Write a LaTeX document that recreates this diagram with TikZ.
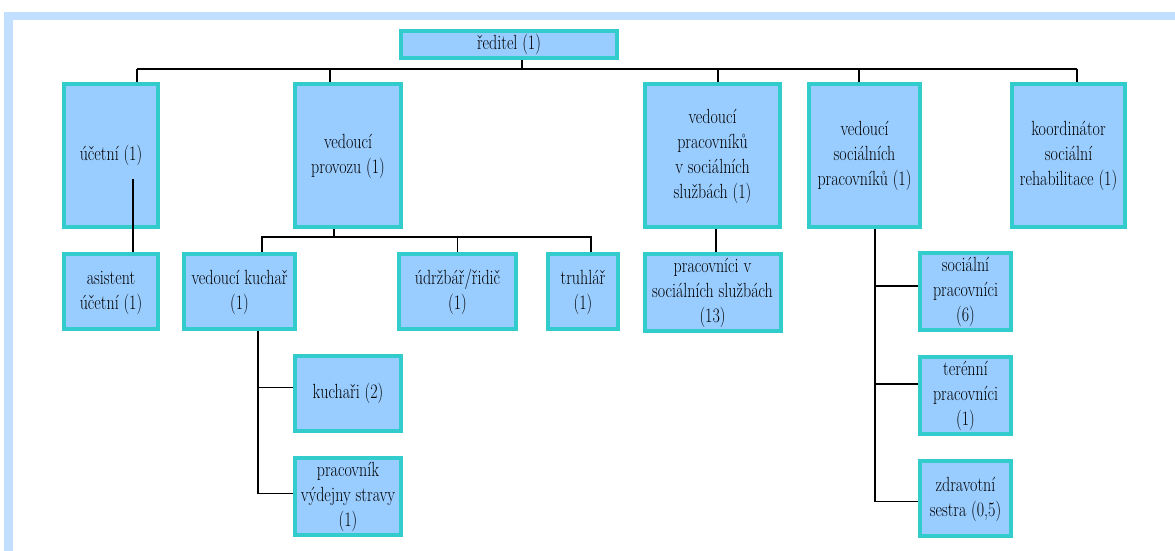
\documentclass[tikz,border=0pt]{standalone}
\usepackage{fontspec}
\usepackage{tikz}
\usetikzlibrary{positioning, calc}
\definecolor{boxfill}{HTML}{99CCFF}
\definecolor{boxline}{HTML}{33CCCC}
\definecolor{framecol}{HTML}{C2DFFF}
% uzky text (zuzeni pisma)
\newcommand{\lbl}[1]{\scalebox{0.78}[1]{\begin{tabular}{@{}c@{}}#1\end{tabular}}}
\tikzset{
  orgbox/.style={rectangle, draw=boxline, fill=boxfill, line width=4pt, inner sep=1pt, minimum height=75pt, font=\fontsize{20.5}{25}\selectfont},
  topbox/.style={orgbox, minimum height=143pt},
  link/.style={draw=black, line width=1.6pt},
  frame/.style={draw=framecol, line width=8.5pt}
}

\begin{document}
\begin{tikzpicture}[x=1pt, y=-1pt]
    \useasboundingbox (0,0) rectangle (1175,551);
    % --- ramecek ---
    \draw [frame] (8.5,551) -- (8.5,16) -- (1175,16);

    % --- Uzly ---
    \node (reditel) [orgbox, minimum width=216pt, minimum height=25pt] at (509,44.5) {\lbl{ředitel (1)}};
    \node (ucetni) [topbox, minimum width=94pt] at (111,155.5) {\lbl{účetní (1)}};
    \node (provozu) [topbox, minimum width=106pt] at (348,155.5) {\lbl{vedoucí\\ provozu (1)}};
    \node (pracovniku) [topbox, minimum width=135pt] at (712.5,155.5) {\lbl{vedoucí\\ pracovníků\\ v sociálních\\ službách (1)}};
    \node (vedsoc) [topbox, minimum width=111pt] at (864.5,155.5) {\lbl{vedoucí\\ sociálních\\ pracovníků (1)}};
    \node (koord) [topbox, minimum width=113pt] at (1068.5,155.5) {\lbl{koordinátor\\ sociální\\ rehabilitace (1)}};

    \node (asistent) [orgbox, minimum width=94pt, below=23pt of ucetni] {\lbl{asistent\\ účetní (1)}};
    \node (kuchar) [orgbox, minimum width=111pt] at (239.5,291.5) {\lbl{vedoucí kuchař\\ (1)}};
    \node (udrzbar) [orgbox, minimum width=117pt] at (457.5,291.5) {\lbl{údržbář/řidič\\ (1)}};
    \node (truhlar) [orgbox, minimum width=70pt] at (583,291.5) {\lbl{truhlář\\ (1)}};
    \node (pracovnici) [orgbox, minimum width=136pt, below=23pt of pracovniku] {\lbl{pracovníci v\\ sociálních službách\\ (13)}};
    \node (socprac) [orgbox, minimum width=91pt] at (965.5,291.5) {\lbl{sociální\\ pracovníci\\ (6)}};

    \node (kuchari) [orgbox, minimum width=106pt] at (348,393.5) {\lbl{kuchaři (2)}};
    \node (vydej) [orgbox, minimum width=106pt, below=23pt of kuchari] {\lbl{pracovník\\ výdejny stravy\\ (1)}};
    \node (teren) [orgbox, minimum width=91pt, below=23pt of socprac] {\lbl{terénní\\ pracovníci\\ (1)}};
    \node (zdrav) [orgbox, minimum width=91pt, below=23pt of teren] {\lbl{zdravotní\\ sestra (0,5)}};

    % --- Spojnice ---
    \coordinate (barL) at (137,69);
    \coordinate (barR) at (1077,69);
    \draw [link] (barL) -- (barR);
    \draw [link] ([xshift=13pt]reditel.south) -- ([xshift=13pt]reditel.south |- barL);
    \draw [link] (barL) -- (barL |- ucetni.north);
    \draw [link] ([xshift=-18pt]provozu.north) -- ([xshift=-18pt]provozu.north |- barL);
    \draw [link] ([xshift=5.5pt]pracovniku.north) -- ([xshift=5.5pt]pracovniku.north |- barL);
    \draw [link] ([xshift=-5.5pt]vedsoc.north) -- ([xshift=-5.5pt]vedsoc.north |- barL);
    \draw [link] (barR) -- (barR |- koord.north);

    \draw [link] ([xshift=22pt]asistent.north) -- ++(0,-73);

    \draw [link] ([xshift=-14pt]provozu.south) -- ++(0,8);
    \draw [link] ([xshift=22.5pt]kuchar.north) -- ++(0,-15) -| ([xshift=8pt]truhlar.north);
    \draw [link] (udrzbar.north) -- ++(0,-15);

    \draw [link] ([xshift=3.5pt]pracovnici.north) -- ([xshift=3.5pt]pracovnici.north |- pracovniku.south);

    \draw [link] ([xshift=18.5pt]kuchar.south) |- ([yshift=6pt]kuchari.west);
    \draw [link] ([xshift=18.5pt]kuchar.south) |- ([yshift=3pt]vydej.west);

    \draw [link] ([xshift=10.5pt]vedsoc.south) |- ([yshift=-3pt]zdrav.west);
    \draw [link] ([xshift=10.5pt]vedsoc.south) |- ([yshift=5.5pt]socprac.west);
    \draw [link] ([xshift=10.5pt]vedsoc.south) |- ([yshift=11.5pt]teren.west);
\end{tikzpicture}
\end{document}
